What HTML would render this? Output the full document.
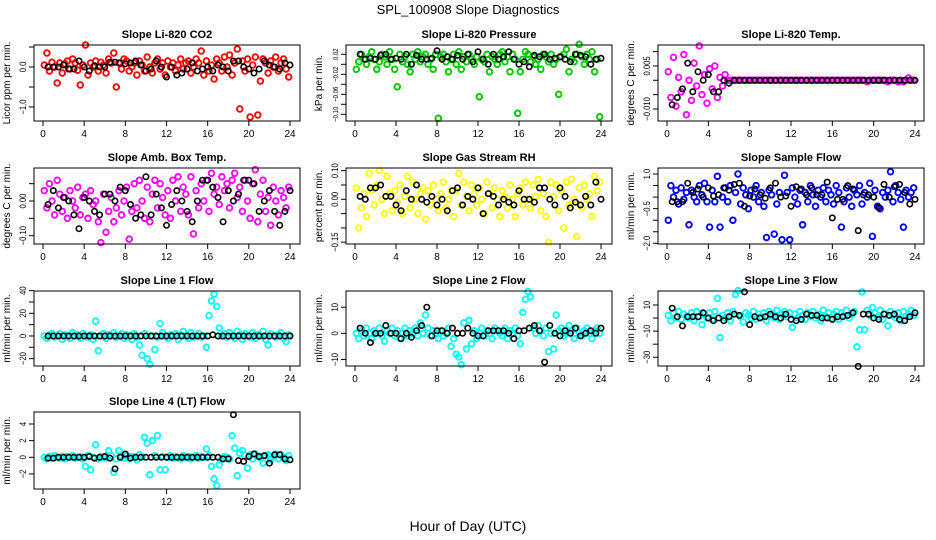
<!DOCTYPE html>
<html><head><meta charset="utf-8"><title>SPL_100908 Slope Diagnostics</title>
<style>
html,body{margin:0;padding:0;background:#fff;}
svg{display:block;font-family:"Liberation Sans",Arial,sans-serif;}
</style></head>
<body>
<svg id="chart" width="936" height="540" viewBox="0 0 936 540" xmlns="http://www.w3.org/2000/svg">
<rect x="0" y="0" width="936" height="540" fill="#fff"/>
<text x="468" y="14" text-anchor="middle" font-size="13">SPL_100908  Slope Diagnostics</text>
<text x="468" y="531" text-anchor="middle" font-size="14">Hour of Day (UTC)</text>
</svg>
<script>
const hours96 = [0.125,0.375,0.625,0.875,1.125,1.375,1.625,1.875,2.125,2.375,2.625,2.875,3.125,3.375,3.625,3.875,4.125,4.375,4.625,4.875,5.125,5.375,5.625,5.875,6.125,6.375,6.625,6.875,7.125,7.375,7.625,7.875,8.125,8.375,8.625,8.875,9.125,9.375,9.625,9.875,10.125,10.375,10.625,10.875,11.125,11.375,11.625,11.875,12.125,12.375,12.625,12.875,13.125,13.375,13.625,13.875,14.125,14.375,14.625,14.875,15.125,15.375,15.625,15.875,16.125,16.375,16.625,16.875,17.125,17.375,17.625,17.875,18.125,18.375,18.625,18.875,19.125,19.375,19.625,19.875,20.125,20.375,20.625,20.875,21.125,21.375,21.625,21.875,22.125,22.375,22.625,22.875,23.125,23.375,23.625,23.875];
const hours48 = [0.5,1,1.5,2,2.5,3,3.5,4,4.5,5,5.5,6,6.5,7,7.5,8,8.5,9,9.5,10,10.5,11,11.5,12,12.5,13,13.5,14,14.5,15,15.5,16,16.5,17,17.5,18,18.5,19,19.5,20,20.5,21,21.5,22,22.5,23,23.5,24];
const xTicks = [0,4,8,12,16,20,24];

const co2Vals = [0.05,0.35,-0.1,0.12,0.0,-0.4,0.1,-0.15, 0.08,0.15,-0.05,0.2,0.1,-0.08,-0.45,0.05, 0.55,-0.2,0.1,0.0,0.15,-0.1,0.12,0.05, -0.15,0.2,0.1,0.35,-0.5,0.1,-0.05,0.2, 0.15,-0.1,0.0,0.1,-0.2,0.15,0.05,-0.1, 0.25,0.0,-0.15,0.1,0.2,-0.05,0.1,-0.2, 0.15,0.0,0.1,-0.1,0.05,0.2,-0.05,0.1, 0.15,-0.15,0.0,0.2,0.1,0.4,-0.2,0.15, -0.1,0.05,-0.3,0.2,0.1,-0.1,0.25,0.0, 0.3,-0.2,0.1,0.45,-1.05,0.15,-0.1,0.2, -1.25,0.05,0.25,-1.2,-0.35,0.2,0.1,-0.15, 0.15,0.0,0.25,-0.1,0.1,0.2,-0.05,-0.25];
const co2Mean = [0.0,0.0,0.0,0.05,-0.05,-0.05,0.15,0.0, -0.1,0.03,0.0,0.0,0.12,0.12,0.1,0.08, 0.1,0.15,0.05,-0.1,-0.05,0.15,0.0,-0.25, 0.0,-0.2,-0.15,-0.05,0.1,-0.1,-0.05,0.0, -0.1,0.05,0.0,-0.1,0.15,0.15,0.0,-0.05, -0.15,-0.05,0.15,0.05,0.0,-0.05,0.1,0.05];

const presVals = [-0.01,0.005,0.02,0.01,0.0,0.015,0.025,0.01, -0.01,0.005,0.02,0.015,0.0,0.025,0.01,-0.01, -0.045,0.02,0.005,0.015,0.0,-0.015,0.02,0.01, 0.025,0.005,0.015,0.02,0.0,0.01,-0.01,0.02, -0.108,0.015,0.02,0.005,-0.015,0.01,0.02,0.0, 0.025,-0.01,0.015,0.005,0.02,0.01,0.0,0.015, -0.065,0.01,0.005,0.02,-0.015,0.015,0.01,0.0, 0.02,0.025,0.005,0.015,-0.015,0.02,0.01,-0.098, -0.015,0.01,0.025,0.02,0.005,0.015,0.0,0.01, -0.01,0.02,0.015,0.005,0.02,0.0,0.01,-0.06, 0.015,0.02,0.03,-0.015,0.01,0.005,0.02,0.04, 0.015,0.0,0.02,0.01,0.025,-0.015,0.01,-0.105];
const presMean = [0.02,0.01,0.012,0.01,0.018,0.02,0.01,0.012, 0.01,0.02,0.0,0.018,0.01,0.01,0.012,0.027, 0.01,0.015,0.01,0.018,0.01,0.02,0.005,0.025, 0.01,0.0,0.02,0.01,0.015,0.025,0.01,0.0, 0.005,-0.005,0.018,0.015,0.02,0.01,0.012,0.015, 0.01,0.005,0.02,0.018,0.015,0.0,0.01,0.012];

const tempVals = [0.003,-0.006,0.008,-0.009,0.001,-0.004,0.009,-0.012, 0.0,-0.007,0.006,-0.002,0.012,-0.005,0.002,-0.008, 0.004,-0.003,0.005,-0.006,0.001,-0.002,0.002,0.0, 0,0,0,0,0,0,0,0, 0,0,0,0,0,0,0,0, 0,0,0,0,0,0,0,0, 0,0,0,0,0,0,0,0, 0,0,0,0,0,0,0,0, 0,0,0,0,0,0,0,0, 0,0,0,0,0,-0.0005,0,0, 0,0,0,0,0,-0.0005,0,0, 0,-0.0005,0,-0.0005,0,0.0008,0,0];
const tempMean = [-0.0085,-0.006,-0.003,0.006,-0.004,0.003,0.0,0.002, -0.004,-0.004,0.0,-0.001,0,0,0,0, 0,0,0,0,0,0,0,0, 0,0,0,0,0,0,0,0, 0,0,0,0,0,0,0,0, 0,0,0,0,0,0,0,0];

const ambVals = [0.03,-0.02,0.05,0.0,-0.04,0.06,0.02,-0.03, 0.01,-0.05,0.03,0.0,-0.02,0.04,-0.04,0.01, 0.02,-0.05,0.03,-0.01,0.0,-0.06,-0.12,0.02, -0.09,-0.03,0.01,-0.06,-0.02,0.03,-0.04,0.0, 0.04,-0.11,-0.03,0.05,-0.02,0.06,0.0,-0.05, 0.04,-0.06,0.02,0.06,-0.02,0.05,0.01,-0.04, 0.03,-0.05,0.06,0.0,0.07,-0.03,0.04,0.02, -0.04,0.07,-0.095,0.03,-0.02,0.05,0.0,0.06, -0.03,0.08,0.02,0.04,-0.01,0.07,0.03,0.05, -0.02,0.06,0.08,0.01,0.04,-0.03,0.06,0.0, -0.05,0.05,0.09,-0.06,0.02,0.06,-0.03,0.01, -0.07,0.04,0.0,-0.04,0.03,0.01,-0.02,0.04];
const ambMean = [-0.01,0.03,-0.02,0.01,0.0,-0.04,-0.08,0.01, 0.0,-0.03,-0.04,0.02,0.02,0.0,0.04,0.03, -0.01,-0.05,-0.04,0.07,-0.04,0.02,-0.02,-0.07, -0.01,0.03,0.0,-0.03,-0.06,0.0,0.06,0.06, 0.04,0.01,-0.06,0.03,0.0,0.02,0.06,0.06, 0.05,-0.03,0.0,0.03,-0.03,-0.07,-0.03,0.03];

const rhVals = [0.04,-0.1,-0.03,0.02,-0.06,0.09,0.03,-0.02, 0.05,0.1,0.0,-0.05,0.08,0.02,-0.04,0.03, -0.01,0.05,-0.05,0.01,0.08,-0.03,0.06,0.0, -0.05,0.02,0.04,-0.07,0.03,-0.02,0.05,0.0, -0.04,0.02,0.06,-0.03,0.0,0.03,-0.06,0.03, 0.09,-0.02,0.06,0.01,-0.04,0.05,0.02,-0.02, 0.04,0.0,-0.05,0.06,0.02,-0.03,0.04,0.0, -0.06,0.03,0.01,-0.03,0.05,0.0,-0.06,0.02, 0.04,-0.02,0.06,0.0,-0.03,0.05,0.01,0.07, -0.04,0.02,-0.06,-0.15,0.06,0.01,0.05,-0.04, 0.03,-0.1,0.06,-0.02,0.07,0.0,-0.13,0.04, -0.03,0.05,0.0,0.02,-0.06,0.08,0.03,0.06];
const rhMean = [0.01,0.0,0.04,0.04,0.05,0.01,0.01,-0.02, -0.04,0.03,0.0,0.05,0.0,-0.01,0.01,-0.02, 0.0,-0.04,0.03,0.04,-0.02,0.01,0.0,0.04, -0.05,0.02,0.01,-0.02,0.0,-0.01,-0.02,0.03, 0.0,0.0,-0.01,0.04,0.04,0.0,-0.02,0.04, 0.01,-0.03,-0.01,-0.02,0.01,-0.02,0.06,0.0];

const flowVals = [-1.0,0.5,0.0,0.3,-0.3,0.4,-0.1,0.2, -1.2,0.3,0.0,-0.2,0.5,0.1,0.6,-0.2, -1.3,0.3,-0.2,0.9,-1.3,0.0,0.4,-0.2, 0.5,-1.0,0.2,1.0,-0.3,0.4,0.1,-0.5, 0.3,0.0,0.5,-0.2,0.2,-0.4,-1.75,0.3, 0.1,-1.6,-0.3,0.2,-1.85,0.95,0.2,-1.85, 0.4,0.0,-0.3,0.3,-1.2,0.2,-0.2,0.5, 0.1,-0.4,0.3,0.0,0.4,-0.2,0.3,0.1, -0.3,0.5,0.2,-1.3,-0.2,0.4,0.0,-0.4, 0.3,0.1,0.5,-0.3,0.2,0.0,0.6,-1.7, 0.3,-0.4,-0.5,0.2,0.0,0.3,1.1,-0.2, 0.5,0.2,-0.1,-1.3,0.3,0.0,0.2,0.4];
const flowMean = [-0.2,-0.2,-0.2,0.6,0.2,0.35,0.0,0.4, 0.05,0.1,0.4,0.3,0.55,0.6,-0.4,0.05, 0.35,0.1,-0.05,0.4,0.6,0.0,0.05,-0.4, 0.45,0.35,0.1,0.4,0.1,0.1,0.65,-0.9, -0.1,-0.1,0.5,0.35,-1.45,0.1,0.1,0.0, -0.45,0.55,0.0,0.45,0.55,0.2,-0.3,-0.1];

const line1Vals = [0,-2,1,2,-1,0,2,-3, 1,0,-2,3,0,1,-2,2, 0,-1,1,-3,13,-13,0,2, -2,1,0,3,-1,0,2,-2, 1,0,-3,2,-1,-8,-17,2, -20,-25,0,-12,-1,11,3,0, -2,1,0,2,-3,1,4,0, -2,3,-1,0,2,-1,0,-10, 18,31,37,26,7,0,2,-1, 3,0,-2,4,1,-3,2,0, -1,3,-2,1,0,4,-3,-8, 2,0,-1,1,3,-2,-5,1];
const line1Mean = [0,0,0,0,0,0,0,0, 0,0,0,0,0,0,0,0, 0,0,0,0,0,0,0,0, 0,0,0,0,0,0,0,0, 1,0,0,0,0,0,0,0, 0,0,0,0,0,0,0,0];

const line2Vals = [0,-2,1,-1,2,0,-2,1, 0,2,-1,-3,1,0,2,-1, 1,-2,0,2,-1,1,0,2, -1,4,0,7,2,-1,1,0, -2,1,-1,0,2,-5,-2,-8, -9,-12,4,-6,5,-4,1,-2, 0,2,-1,1,0,-2,2,1, 0,-1,2,-2,1,0,2,-1, -4,8,13,16,14,2,0,3, 1,-1,2,-7,0,-6,7,1, 2,-1,0,3,1,-2,2,0, -1,1,2,0,-2,1,2,0];
const line2Mean = [2,0,-3.5,0,0,3,0,0, -2,0,-1.5,1,3,10,-1,1, 1,0,2,0,0,2,0,-1, -1,1,1,1,1,0,-2,1, 1,2,3,1,-11,3,0,-1, 1,0,2,-1,0,1,0,2];

const line3Vals = [2,-2,4,0,5,-1,3,1, 0,4,-2,5,1,-5,3,0, 4,-1,5,15,-15,2,0,4, -2,5,18,21,1,-3,4,2, 0,5,-1,3,1,4,-2,5, 2,0,6,-1,3,5,1,4, -7,3,0,5,2,-1,4,1, 5,0,3,-2,6,1,4,0, 3,5,-1,4,2,6,0,3, 5,-22,-9,20,-9,6,2,8, 4,1,6,-1,3,-6,5,2, 0,4,-2,5,1,3,6,2];
const line3Mean = [7.5,1,-6,1,1,1,4,0, -2,0,-2,1,3,2,20,-5, 1,0,1,3,1,0,3,-1, -2,-1,3,2,2,0,0,-1, 1,1,2,4,-37,3,3,0, -1,3,2,3,-1,-2,1,4];

const line4Vals = [0,-0.2,0.1,-0.1,0.2,0,-0.1,0.1, -0.2,0.1,0,0.2,-0.1,0,0.1,-0.2, -1.1,0.2,-1.5,0,1.5,-0.2,0.1,0, -0.1,0.8,0.2,-1.8,-0.2,0.8,0.1,-0.1, 0.2,-0.2,0.1,0,-0.3,0.3,0.1,2.4, 1.7,-2.1,2.0,0.2,2.6,-1.5,0.1,-1.5, 0,0.2,-0.1,0.1,0,-0.2,0.2,0, 0.1,-0.2,0,0.2,-0.1,0.1,0,1.0, 0.2,-1.1,-2.6,-3.4,-0.9,-0.2,0.1,0, -0.2,2.6,1.1,-2.2,0.5,0.8,0.2,-1.3, 0.3,-0.2,0.4,0.1,-0.1,-0.7,0.2,0.3, -0.3,0.1,0.4,-0.2,0.3,0,-0.4,0.2];
const line4Mean = [-0.1,-0.1,0,0,0,0,0,0, 0.1,-0.1,0,0.1,-0.1,-1.4,0,0.4, -0.1,0,0,0,0,0,0,0, 0,0,0,0,0,0,0,0, 0,0,-0.2,-0.2,5.1,-0.4,-0.5,0.1, 0.4,0.1,0.2,-0.7,0.3,0.3,-0.2,-0.3];

const panels = [
 {name:"co2",title:"Slope Li-820 CO2",ylab:"Licor ppm per min.",col:0,row:0,color:"#ff0000",vals:co2Vals,mean:co2Mean,dom:[-1.35,0.55],ticks:[-1,-0.5,0,0.5],labels:[[-1,"\u22121.0"],[0,"0.0"]]},
 {name:"pressure",title:"Slope Li-820 Pressure",ylab:"kPa per min.",col:1,row:0,color:"#00c800",vals:presVals,mean:presMean,dom:[-0.1134,0.0386],ticks:[0.02,0,-0.02,-0.04,-0.06,-0.08,-0.1],labels:[[0.02,"0.02"],[-0.02,"\u22120.02"],[-0.06,"\u22120.06"],[-0.1,"\u22120.10"]],fs:7.5,sx:0.8},
 {name:"li820-temp",title:"Slope Li-820 Temp.",ylab:"degrees C per min.",col:2,row:0,color:"#ff00ff",vals:tempVals,mean:tempMean,dom:[-0.0142,0.01231],ticks:[0.01,0.005,0,-0.005,-0.01],labels:[[0.005,"0.005"],[-0.01,"\u22120.010"]]},
 {name:"amb-box-temp",title:"Slope Amb. Box Temp.",ylab:"degrees C per min.",col:0,row:1,color:"#ff00ff",vals:ambVals,mean:ambMean,dom:[-0.124,0.0952],ticks:[0.05,0,-0.05,-0.1],labels:[[0,"0.00"],[-0.1,"\u22120.10"]]},
 {name:"gas-rh",title:"Slope Gas Stream RH",ylab:"percent per min.",col:1,row:1,color:"#ffff00",vals:rhVals,mean:rhMean,dom:[-0.1563,0.1094],ticks:[0.1,0.05,0,-0.05,-0.1,-0.15],labels:[[0.1,"0.10"],[0,"0.00"],[-0.15,"\u22120.15"]]},
 {name:"sample-flow",title:"Slope Sample Flow",ylab:"ml/min per min.",col:2,row:1,color:"#0000ff",vals:flowVals,mean:flowMean,dom:[-2.03,1.26],ticks:[1,0.5,0,-0.5,-1,-1.5,-2],labels:[[1,"1.0"],[-0.5,"\u22120.5"],[-2,"\u22122.0"]]},
 {name:"line1-flow",title:"Slope Line 1 Flow",ylab:"ml/min per min.",col:0,row:2,color:"#00ffff",vals:line1Vals,mean:line1Mean,dom:[-26.5,39.7],ticks:[40,30,20,10,0,-10,-20],labels:[[40,"40"],[20,"20"],[0,"0"],[-20,"\u221220"]]},
 {name:"line2-flow",title:"Slope Line 2 Flow",ylab:"ml/min per min.",col:1,row:2,color:"#00ffff",vals:line2Vals,mean:line2Mean,dom:[-12.5,16.2],ticks:[10,0,-10],labels:[[10,"10"],[0,"0"],[-10,"\u221210"]]},
 {name:"line3-flow",title:"Slope Line 3 Flow",ylab:"ml/min per min.",col:2,row:2,color:"#00ffff",vals:line3Vals,mean:line3Mean,dom:[-36.7,20.7],ticks:[10,0,-10,-20,-30],labels:[[10,"10"],[-10,"\u221210"],[-30,"\u221230"]]},
 {name:"line4-flow",title:"Slope Line 4 (LT) Flow",ylab:"ml/min per min.",col:0,row:3,color:"#00ffff",vals:line4Vals,mean:line4Mean,dom:[-3.81,5.44],ticks:[4,2,0,-2],labels:[[4,"4"],[2,"2"],[0,"0"],[-2,"\u22122"]]}
];

const colGeom = [{l:34,r:300,x0:43,x24:290},{l:346,r:612,x0:355,x24:601},{l:658,r:924,x0:667,x24:915}];
const rowGeom = [{t:45,b:121},{t:168,b:244},{t:291,b:366},{t:412,b:489}];
const NS = "http://www.w3.org/2000/svg";
const svg = document.getElementById("chart");
function mk(tag, attrs, parent){const e=document.createElementNS(NS,tag);for(const k in attrs)e.setAttribute(k,attrs[k]);parent.appendChild(e);return e;}

panels.forEach(p=>{
  const c=colGeom[p.col], r=rowGeom[p.row];
  const xs = h => c.x0 + (h/24)*(c.x24-c.x0);
  const ys = v => r.b - (v-p.dom[0])/(p.dom[1]-p.dom[0])*(r.b-r.t);
  const g = mk("g",{},svg);
  
  
  const t = mk("text",{x:(c.l+c.r)/2,y:r.t-7,"text-anchor":"middle","font-size":"11","font-weight":"bold"},g);
  t.textContent=p.title;
  
  
  const yl = mk("text",{x:0,y:0,"text-anchor":"middle","font-size":"10",transform:`translate(${c.l-24},${(r.t+r.b)/2}) rotate(-90)`},g);
  yl.textContent=p.ylab;
  
  
  const pts = mk("g",{fill:"none",stroke:p.color,"stroke-width":"1.9"},g);
  
  
  p.vals.forEach((v,i)=>{
    if(i>=hours96.length) return;
    const cc = mk("circle",{cx:xs(hours96[i]).toFixed(1),cy:ys(v).toFixed(1),r:"2.8"},pts);
    
    
  });
  const mp = mk("g",{fill:"none",stroke:"#000","stroke-width":"1.6"},g);
  
  
  p.mean.forEach((v,i)=>{
    if(i>=hours48.length) return;
    const cc = mk("circle",{cx:xs(hours48[i]).toFixed(1),cy:ys(v).toFixed(1),r:"2.7"},mp);
    
    
  });
  const box = mk("rect",{x:c.l,y:r.t,width:c.r-c.l,height:r.b-r.t,fill:"none",stroke:"#000","stroke-width":"1"},g);
  
  
  const ax = mk("g",{stroke:"#000","stroke-width":"1"},g);
  
  
  xTicks.forEach(h=>{
    const x=xs(h);
    mk("line",{x1:x,y1:r.b,x2:x,y2:r.b+5},ax);
    const tl = mk("text",{x:x,y:r.b+16,"text-anchor":"middle","font-size":"10",stroke:"none",fill:"#000"},ax);
    tl.textContent=String(h);
    
    
  });
  p.ticks.forEach(v=>{
    const y=ys(v);
    mk("line",{x1:c.l-5,y1:y,x2:c.l,y2:y},ax);
  });
  const fs = p.fs || 9, sx = p.sx || 0.85;
  p.labels.forEach(([v,s])=>{
    const y=ys(v);
    const tl = mk("text",{x:0,y:0,"text-anchor":"middle","font-size":String(fs),stroke:"none",fill:"#000",transform:`translate(${c.l-8},${y}) rotate(-90) scale(${sx},1)`},ax);
    tl.textContent=s;
    
    
  });
});
</script>
</body></html>
